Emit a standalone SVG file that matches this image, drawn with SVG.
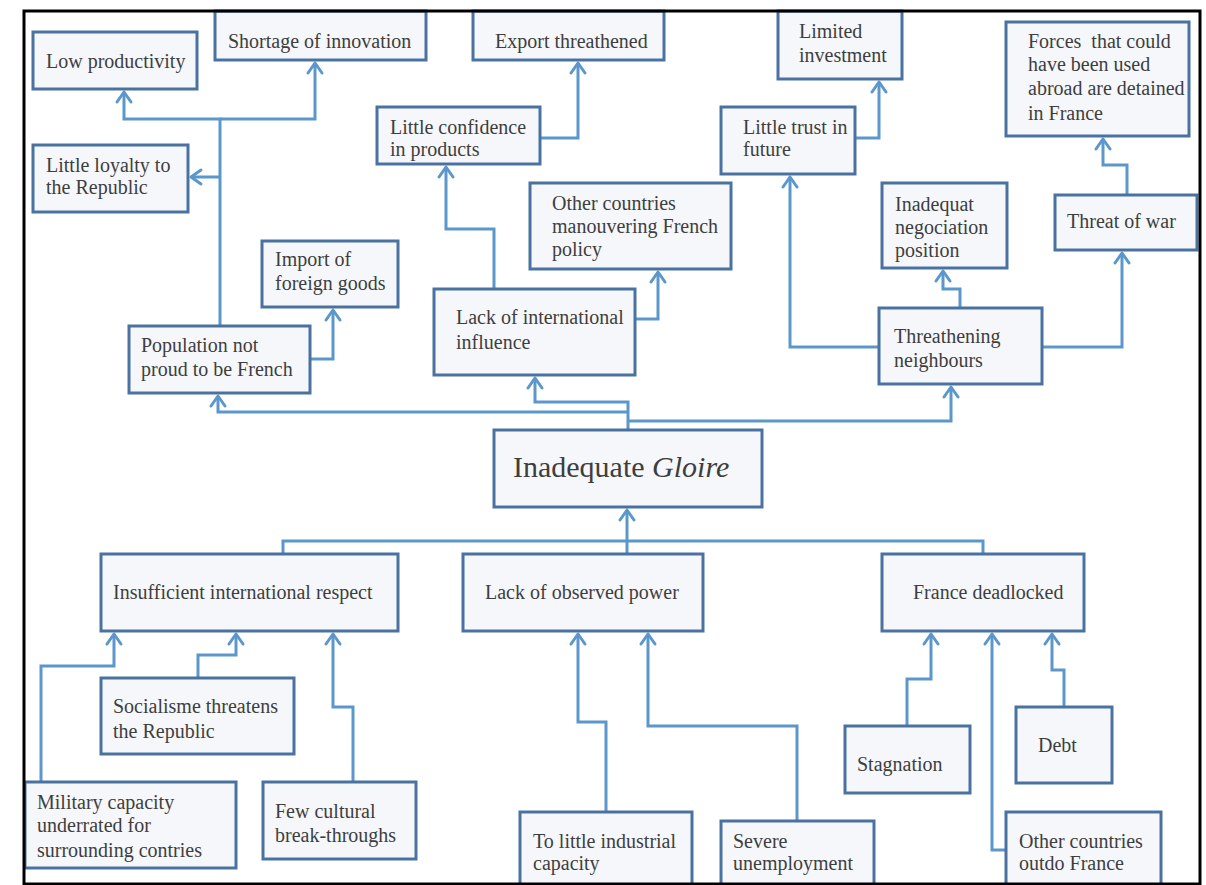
<svg xmlns="http://www.w3.org/2000/svg" width="1206" height="885" viewBox="0 0 1206 885">
  <style>
    .box rect { fill: #f5f7fb; stroke: #4a72a0; stroke-width: 3; }
    .box text { font-family: "Liberation Serif", "Times New Roman", serif; font-size: 20px; fill: #3e3e3e; white-space: pre; }
    .box text.big { font-size: 30px; }
    #connectors path { fill: none; stroke: #5c97cb; stroke-width: 3; }
    #connectors path.arr { marker-end: url(#ah); }
  </style>
  <defs>
    <marker id="ah" markerUnits="userSpaceOnUse" markerWidth="24" markerHeight="24" viewBox="-12 -12 24 24" refX="0" refY="0" orient="auto" overflow="visible">
      <path d="M-10,-7 L0,0 L-10,7" fill="none" stroke="#5c97cb" stroke-width="3" stroke-linejoin="round" stroke-linecap="round"/>
    </marker>
  </defs>

  <rect width="1206" height="885" fill="#ffffff"/>

  <!-- connectors -->
  <g id="connectors">
    <!-- upper tree -->
    <path class="arr" d="M220,326 V119 H124 V92"/>
    <path class="arr" d="M220,119 H315 V63"/>
    <path class="arr" d="M220,177 H191"/>
    <path class="arr" d="M310,359 H333 V310"/>
    <path class="arr" d="M628,430 V402 H535 V378"/>
    <path class="arr" d="M628,412 H218 V396"/>
    <path class="arr" d="M628,421 H951 V387"/>
    <path class="arr" d="M494,289 V229 H446 V167"/>
    <path class="arr" d="M635,319 H658 V272"/>
    <path class="arr" d="M540,138 H578 V63"/>
    <path class="arr" d="M855,138 H879 V82"/>
    <path class="arr" d="M879,347 H790 V177"/>
    <path class="arr" d="M960,308 V289 H943 V271"/>
    <path class="arr" d="M1042,347 H1122 V253"/>
    <path class="arr" d="M1127,195 V165 H1103 V139"/>
    <!-- lower tree -->
    <path d="M283,554 V541 H983 V554"/>
    <path class="arr" d="M627,554 V510"/>
    <path class="arr" d="M41,782 V666 H114 V634"/>
    <path class="arr" d="M198,678 V655 H236 V634"/>
    <path class="arr" d="M353,782 V707 H333 V634"/>
    <path class="arr" d="M606,812 V722 H578 V634"/>
    <path class="arr" d="M797,821 V726 H648 V634"/>
    <path class="arr" d="M907,726 V679 H931 V634"/>
    <path class="arr" d="M1006,850 H992 V634"/>
    <path class="arr" d="M1064,707 V670 H1052 V634"/>
  </g>

  <!-- nodes -->
  <g id="low-productivity" class="box">
    <rect x="33" y="32" width="164" height="57"/>
    <text x="46" y="68">Low productivity</text>
  </g>
  <g id="shortage-innovation" class="box">
    <rect x="215" y="11" width="211" height="49"/>
    <text x="228" y="48">Shortage of innovation</text>
  </g>
  <g id="export-threathened" class="box">
    <rect x="473" y="11" width="191" height="49"/>
    <text x="495" y="48">Export threathened</text>
  </g>
  <g id="limited-investment" class="box">
    <rect x="778" y="11" width="124" height="68"/>
    <text x="799" y="38">Limited</text>
    <text x="799" y="62">investment</text>
  </g>
  <g id="forces-detained" class="box">
    <rect x="1006" y="22" width="183" height="114"/>
    <text x="1028" y="48">Forces  that could</text>
    <text x="1028" y="71">have been used</text>
    <text x="1028" y="95">abroad are detained</text>
    <text x="1028" y="120">in France</text>
  </g>
  <g id="little-loyalty" class="box">
    <rect x="33" y="145" width="155" height="67"/>
    <text x="46" y="172">Little loyalty to</text>
    <text x="46" y="194">the Republic</text>
  </g>
  <g id="little-confidence" class="box">
    <rect x="377" y="107" width="163" height="57"/>
    <text x="390" y="134">Little confidence</text>
    <text x="390" y="156">in products</text>
  </g>
  <g id="little-trust" class="box">
    <rect x="721" y="107" width="134" height="67"/>
    <text x="743" y="134">Little trust in</text>
    <text x="743" y="156">future</text>
  </g>
  <g id="other-countries-manouvering" class="box">
    <rect x="530" y="183" width="201" height="86"/>
    <text x="552" y="210">Other countries</text>
    <text x="552" y="233">manouvering French</text>
    <text x="552" y="256">policy</text>
  </g>
  <g id="inadequat-negociation" class="box">
    <rect x="882" y="183" width="125" height="85"/>
    <text x="895" y="211">Inadequat</text>
    <text x="895" y="234">negociation</text>
    <text x="895" y="257">position</text>
  </g>
  <g id="threat-of-war" class="box">
    <rect x="1055" y="195" width="142" height="55"/>
    <text x="1067" y="228">Threat of war</text>
  </g>
  <g id="import-foreign-goods" class="box">
    <rect x="262" y="241" width="136" height="66"/>
    <text x="275" y="266">Import of</text>
    <text x="275" y="290">foreign goods</text>
  </g>
  <g id="population-not-proud" class="box">
    <rect x="129" y="326" width="181" height="67"/>
    <text x="141" y="352">Population not</text>
    <text x="141" y="376">proud to be French</text>
  </g>
  <g id="lack-international-influence" class="box">
    <rect x="434" y="289" width="201" height="86"/>
    <text x="456" y="324">Lack of international</text>
    <text x="456" y="349">influence</text>
  </g>
  <g id="threathening-neighbours" class="box">
    <rect x="879" y="308" width="163" height="76"/>
    <text x="894" y="343">Threathening</text>
    <text x="894" y="367">neighbours</text>
  </g>
  <g id="inadequate-gloire" class="box">
    <rect x="494" y="430" width="268" height="77"/>
    <text class="big" x="513" y="477">Inadequate <tspan font-style="italic">Gloire</tspan></text>
  </g>
  <g id="insufficient-respect" class="box">
    <rect x="101" y="554" width="297" height="77"/>
    <text x="113" y="599">Insufficient international respect</text>
  </g>
  <g id="lack-observed-power" class="box">
    <rect x="463" y="554" width="240" height="77"/>
    <text x="485" y="599">Lack of observed power</text>
  </g>
  <g id="france-deadlocked" class="box">
    <rect x="882" y="554" width="202" height="77"/>
    <text x="913" y="599">France deadlocked</text>
  </g>
  <g id="socialisme-threatens" class="box">
    <rect x="101" y="678" width="193" height="76"/>
    <text x="113" y="713">Socialisme threatens</text>
    <text x="113" y="738">the Republic</text>
  </g>
  <g id="military-capacity" class="box">
    <rect x="25" y="782" width="211" height="86"/>
    <text x="37" y="809">Military capacity</text>
    <text x="37" y="832">underrated for</text>
    <text x="37" y="857">surrounding contries</text>
  </g>
  <g id="few-cultural" class="box">
    <rect x="263" y="782" width="153" height="77"/>
    <text x="275" y="818">Few cultural</text>
    <text x="275" y="842">break-throughs</text>
  </g>
  <g id="little-industrial" class="box">
    <rect x="520" y="812" width="172" height="90"/>
    <text x="533" y="848">To little industrial</text>
    <text x="533" y="870">capacity</text>
  </g>
  <g id="severe-unemployment" class="box">
    <rect x="721" y="821" width="153" height="80"/>
    <text x="733" y="848">Severe</text>
    <text x="733" y="870">unemployment</text>
  </g>
  <g id="stagnation" class="box">
    <rect x="845" y="726" width="125" height="67"/>
    <text x="857" y="771">Stagnation</text>
  </g>
  <g id="debt" class="box">
    <rect x="1016" y="707" width="96" height="76"/>
    <text x="1038" y="752">Debt</text>
  </g>
  <g id="other-countries-outdo" class="box">
    <rect x="1006" y="812" width="155" height="90"/>
    <text x="1019" y="848">Other countries</text>
    <text x="1019" y="870">outdo France</text>
  </g>

  <!-- outer frame -->
  <rect x="24" y="11" width="1176" height="873" fill="none" stroke="#000000" stroke-width="3"/>
</svg>
